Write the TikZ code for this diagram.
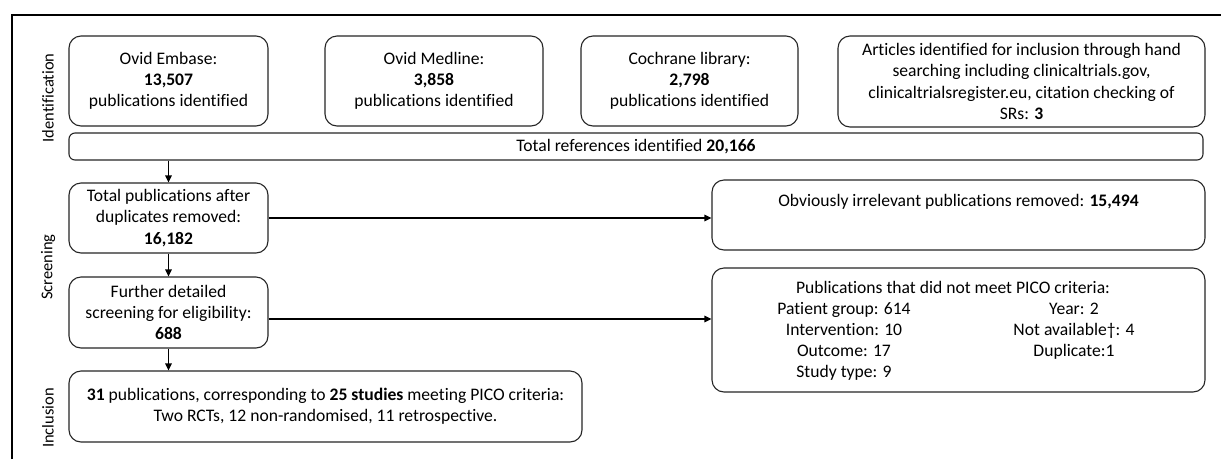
\documentclass[tikz,border=0pt]{standalone}
\usepackage{fontspec}
\setmainfont{Carlito}[Ligatures={NoCommon}]
\usetikzlibrary{arrows.meta,calc}
\newcommand\myBody{\fontsize{17.6}{21.3}\selectfont}
\newcommand\myLab{\fontsize{16.5}{19}\selectfont}
\begin{document}
\begin{tikzpicture}[x=1pt,y=-1pt,
  box/.style={draw=black!85, line width=1.1pt, rounded corners=12pt, inner sep=0pt, align=center, font=\myBody},
  txt/.style={inner sep=0pt, align=center, font=\myBody},
  lab/.style={rotate=90, inner sep=0pt, font=\myLab},
  arr/.style={line width=1.3pt, -{Triangle[length=7pt,width=6.5pt]}},
  frameline/.style={line width=1.4pt}]
\useasboundingbox (0,0) rectangle (1221,459);
\fill[white] (0,0) rectangle (1221,459);
\draw[frameline] (12,459) -- (12,15) -- (1221,15);

% side labels
\node[lab] (lid) at (48,98) {Identification};
\node[lab] (lsc) at (48,267) {Screening};
\node[lab] (lin) at (48,418) {Inclusion};

% identification
\node[box, minimum width=199pt, minimum height=90pt] (emb) at (168.5,81)
  {Ovid Embase:\\\textbf{13,507}\\publications identified};
\node[box, minimum width=218pt, minimum height=90pt] (med) at (434,81)
  {Ovid Medline:\\\textbf{3,858}\\publications identified};
\node[box, minimum width=217pt, minimum height=90pt] (coc) at (689.5,81)
  {Cochrane library:\\\textbf{2,798}\\publications identified};
\node[box, minimum width=367pt, minimum height=91pt] (art) at (1021.5,81.5)
  {Articles identified for inclusion through hand\\searching including clinicaltrials.gov,\\clinicaltrialsregister.eu, citation checking of\\SRs: \textbf{3}};
\node[box, rounded corners=6pt, minimum width=1134pt, minimum height=27pt] (tot) at (636,146.5)
  {Total references identified \textbf{20,166}};

% screening
\node[box, minimum width=199pt, minimum height=70pt] (tp) at (168.5,218)
  {Total publications after\\duplicates removed:\\\textbf{16,182}};
\node[box, minimum width=493pt, minimum height=70pt] (obv) at (958.5,215) {};
\node[txt] (obvt) at (958.5,202) {Obviously irrelevant publications removed: \textbf{15,494}};
\node[box, minimum width=199pt, minimum height=71pt] (fd) at (168.5,312.5)
  {Further detailed\\screening for eligibility:\\\textbf{688}};
\node[box, minimum width=493pt, minimum height=124pt] (pico) at (958.5,330) {};
\node[txt] (picoh) at (953,287) {Publications that did not meet PICO criteria:};
\node[txt, font=\fontsize{17.6}{21}\selectfont] (picol) at (844,341.5)
  {Patient group: 614\\Intervention: 10\\Outcome: 17\\Study type: 9};
\node[txt, font=\fontsize{17.6}{21}\selectfont] (picor) at (1074,331)
  {Year: 2\\Not available†: 4\\Duplicate:1};

% inclusion
\node[box, minimum width=513pt, minimum height=71pt] (inc) at (325.5,406.5)
  {\textbf{31} publications, corresponding to \textbf{25 studies} meeting PICO criteria:\\Two RCTs, 12 non-randomised, 11 retrospective.};

% connectors
\draw[arr] (tot.south -| tp.north) -- (tp.north);
\draw[arr] (tp.south) -- (fd.north);
\draw[arr] (fd.south) -- (inc.north -| fd.south);
\draw[arr] (tp.east) -- (tp.east -| obv.west);
\coordinate (fdo) at ($(fd.east)+(0,6.5)$);
\draw[arr] (fdo) -- (fdo -| pico.west);
\end{tikzpicture}
\end{document}
